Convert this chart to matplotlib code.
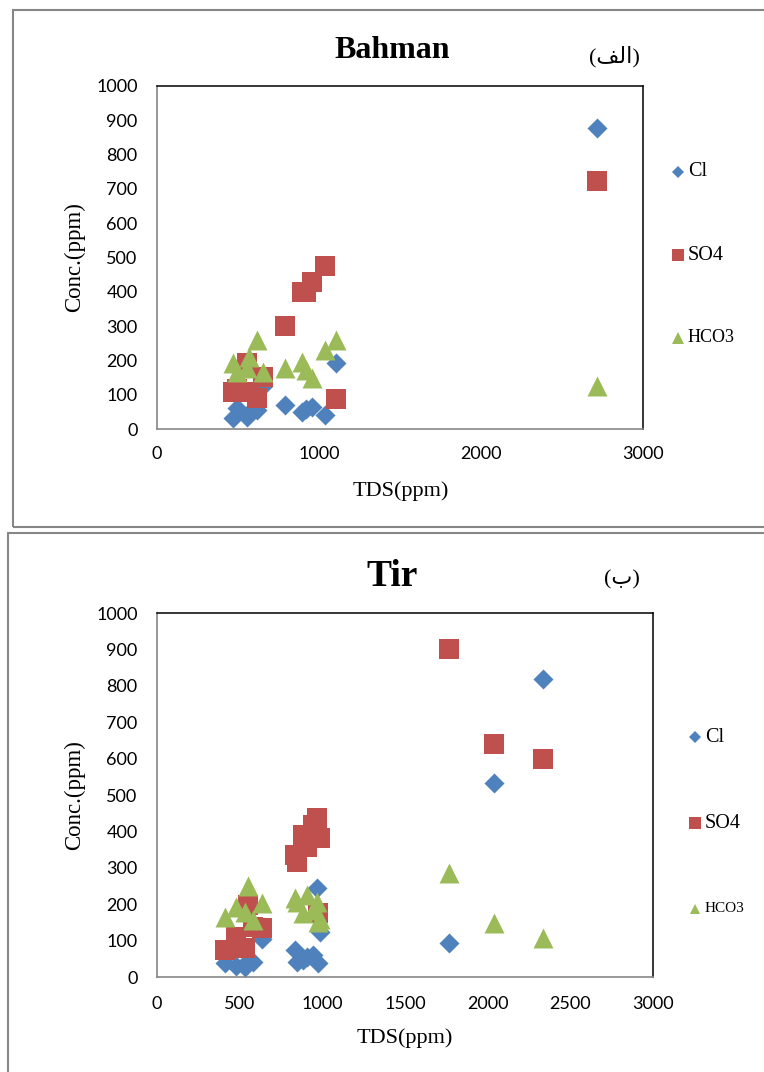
import matplotlib
matplotlib.use('Agg')
import matplotlib.pyplot as plt
from matplotlib.lines import Line2D
from matplotlib.patches import Rectangle

# Bahman (الف)
tds_bahman = [471, 492, 554, 568, 615, 656, 790, 893, 920, 955, 1037, 1103, 2716]
cl_bahman = [31, 60, 36, 48, 55, 125, 70, 50, 58, 65, 41, 193, 877]
so4_bahman = [109, 118, 191, 108, 89, 152, 300, 400, 398, 429, 475, 87, 723]
hco3_bahman = [191, 167, 177, 211, 259, 167, 177, 196, 172, 148, 230, 259, 125]

# Tir (ب)
tds_tir = [411, 478, 532, 549, 583, 633, 835, 845, 881, 906, 946, 966, 976, 986, 1768, 2039, 2333]
cl_tir = [38, 30, 28, 45, 42, 105, 74, 42, 47, 55, 60, 244, 38, 125, 93, 534, 819]
so4_tir = [74, 111, 79, 198, 138, 134, 335, 317, 390, 358, 418, 436, 175, 381, 901, 640, 599]
hco3_tir = [166, 193, 179, 250, 157, 202, 216, 205, 175, 225, 184, 207, 152, 160, 285, 147, 106]

series_names = ['Cl', 'SO4', 'HCO3']
colores = ['#4F81BD', '#C0504D', '#9BBB59']
marcadores = ['D', 's', '^']
tamanos = [104, 207, 207]  # area en pt^2

W, H = 764, 1072
fig = plt.figure(figsize=(W / 100, H / 100), dpi=100)

def fx(x):
    return x / W

def fy(y):
    return 1 - y / H

serif = 'Liberation Serif'
ticks_font = 'Lato'

# marcos exteriores de cada grafico
fig.add_artist(Rectangle((fx(13), fy(527)), fx(800) - fx(13), fy(10) - fy(527),
                         transform=fig.transFigure, fill=False, edgecolor='#868686', linewidth=1.5))
fig.add_artist(Rectangle((fx(8), fy(1100)), fx(800) - fx(8), fy(533) - fy(1100),
                         transform=fig.transFigure, fill=False, edgecolor='#868686', linewidth=1.5))


def armar_panel(caja, tds, datos, xticks, pad_x):
    left, top, right, bottom = caja
    ax = fig.add_axes([fx(left), fy(bottom), fx(right) - fx(left), fy(top) - fy(bottom)])
    for vals, c, m, s in zip(datos, colores, marcadores, tamanos):
        ax.scatter(tds, vals, color=c, marker=m, s=s, linewidths=0, zorder=3)
    ax.set_xlim(0, 3000)
    ax.set_ylim(0, 1000)
    ax.set_xticks(xticks)
    ax.set_yticks(range(0, 1001, 100))
    ax.tick_params(length=0, labelsize=13)
    ax.tick_params(axis='y', pad=14)
    ax.tick_params(axis='x', pad=pad_x)
    for lab in ax.get_xticklabels() + ax.get_yticklabels():
        lab.set_family(ticks_font)
    ax.spines['left'].set_color('#868686')
    ax.spines['bottom'].set_color('#868686')
    ax.spines['left'].set_linewidth(1.2)
    ax.spines['bottom'].set_linewidth(1.2)
    ax.spines['top'].set_color('black')
    ax.spines['right'].set_color('black')
    ax.spines['top'].set_linewidth(1.1)
    ax.spines['right'].set_linewidth(1.1)
    return ax


ax1 = armar_panel((157, 86, 643, 429), tds_bahman, [cl_bahman, so4_bahman, hco3_bahman],
                  [0, 1000, 2000, 3000], 12)
ax2 = armar_panel((157, 613, 653, 977), tds_tir, [cl_tir, so4_tir, hco3_tir],
                  range(0, 3001, 500), 14)

# titulos
fig.text(fx(392), fy(50), 'Bahman', family=serif, weight='bold', fontsize=23, ha='center', va='center')
fig.text(fx(614), fy(57), '(\uFED2\uFEDF\uFE8D)', family=[serif, 'DejaVu Sans'], fontsize=16,
         ha='center', va='center')
fig.text(fx(392), fy(577), 'Tir', family=serif, weight='bold', fontsize=27, ha='center', va='center')
fig.text(fx(622), fy(580), '(ب)', family=[serif, 'DejaVu Sans'], fontsize=16, ha='center', va='center')

# etiquetas de ejes
for xl, yl, xc, yc in [(401, 491, 75, 257), (405, 1038, 75, 795)]:
    fig.text(fx(xl), fy(yl), 'TDS(ppm)', family=serif, fontsize=16, ha='center', va='center')
    fig.text(fx(xc), fy(yc), 'Conc.(ppm)', family=serif, fontsize=16.5, rotation=90,
             ha='center', va='center')

# leyendas
leyendas = [
    (678, 688, [172, 255, 338], [5.8, 8.6, 8.6], [14.5, 14.5, 13]),
    (695, 705, [737, 823, 909], [6.1, 8.6, 7.2], [14.5, 14.5, 11]),
]
for mx, tx, ys, ms, fs in leyendas:
    for nombre, c, m, y, msz, f in zip(series_names, colores, marcadores, ys, ms, fs):
        fig.add_artist(Line2D([fx(mx)], [fy(y)], transform=fig.transFigure, marker=m,
                              markersize=msz, color=c, markeredgewidth=0, linestyle='none'))
        fig.text(fx(tx), fy(y), nombre, family=serif, fontsize=f, ha='left', va='center')

fig.savefig('out.png', dpi=100)
